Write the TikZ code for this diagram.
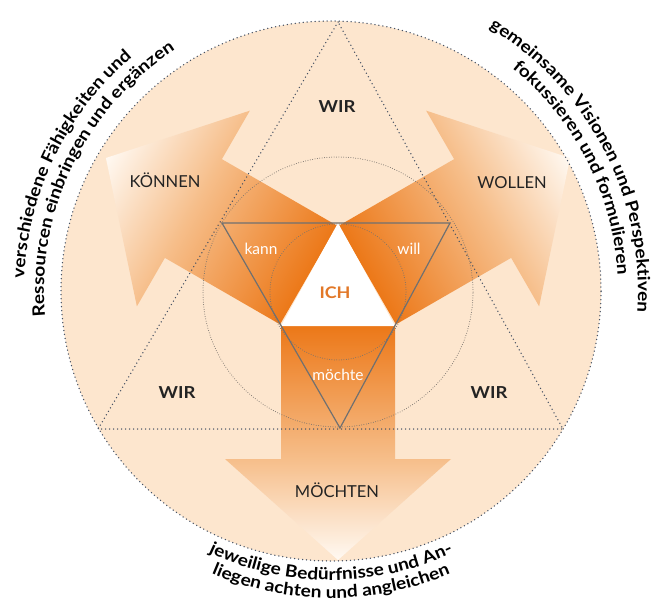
\documentclass[tikz,border=0pt]{standalone}
\usepackage{fontspec}
\setmainfont{Lato}
\newfontfamily\widefam[FakeStretch=1.12]{Lato}
\usetikzlibrary{decorations.text}
\definecolor{peach}{RGB}{253,230,206}
\definecolor{ordark}{RGB}{236,120,24}
\definecolor{ormid}{RGB}{246,190,138}
\definecolor{ortip}{RGB}{255,249,242}
\definecolor{dotc}{RGB}{70,82,100}
\definecolor{grayc}{RGB}{120,114,108}
\definecolor{trigray}{RGB}{112,112,112}
\definecolor{ichc}{RGB}{226,120,40}
\definecolor{txt}{RGB}{35,35,35}
\pgfdeclareverticalshading{arrowgrad}{100bp}{color(0bp)=(ortip); color(25bp)=(ortip); color(46.6bp)=(ormid); color(75bp)=(ordark); color(100bp)=(ordark)}
\newcommand\arcfont{\widefam\bfseries\fontsize{17}{18}\selectfont}
\newcommand\arrowpath{(281,-326) -- (281,-459) -- (225,-459) -- (338,-560) -- (451,-459) -- (395,-459) -- (395,-326) -- cycle}
\begin{document}
\begin{tikzpicture}[x=1pt,y=1pt,
  bigdot/.style={draw=dotc, line width=1.5pt, line cap=round, dash pattern=on 0pt off 4pt},
  smalldot/.style={draw=grayc, line width=1pt, line cap=round, dash pattern=on 0pt off 2.4pt},
  wir/.style={font=\widefam\bfseries\fontsize{16.5}{17}\selectfont, text=txt, anchor=base, inner sep=0pt},
  dirlabel/.style={font=\fontsize{16.5}{17}\selectfont, text=txt, anchor=base, inner sep=0pt},
  innerlabel/.style={font=\fontsize{15.5}{16}\selectfont, text=white, anchor=base, inner sep=0pt},
  arctext/.style={decorate, decoration={text along path, text align=center, text={#1}}}]
\useasboundingbox (0,-613) rectangle (652,0);
\coordinate (C) at (331,-291);
\coordinate (O) at (338,-292);
% disc
\fill[peach] (C) circle[radius=270pt];
% arrows
\begin{scope}
  \shade[shading=arrowgrad] \arrowpath;
\end{scope}
\begin{scope}[transform canvas={rotate around={-120:(338pt,-292pt)}}]
  \shade[shading=arrowgrad] \arrowpath;
\end{scope}
\begin{scope}[transform canvas={rotate around={120:(338pt,-292pt)}}]
  \shade[shading=arrowgrad] \arrowpath;
\end{scope}
% ICH triangle
\fill[white] (338,-223) -- (281,-326) -- (395,-326) -- cycle;
% dotted outlines
\draw[bigdot] (338,-22) -- (98,-429) -- (563,-429) -- cycle;
\draw[bigdot] (C) circle[radius=270pt];
\draw[smalldot] (O) circle[radius=135pt];
\draw[smalldot] (O) circle[radius=68pt];
\draw[trigray, line width=1.2pt] (222,-223) -- (450,-223) -- (340,-428) -- cycle;
% labels
\node[wir] (wirtop) at (337,-112) {WIR};
\node[wir] (wirleft) at (177,-398) {WIR};
\node[wir] (wirright) at (489,-398) {WIR};
\node[dirlabel] (koennen) at (165,-187) {KÖNNEN};
\node[dirlabel] (wollen) at (512,-188) {WOLLEN};
\node[dirlabel] (moechten) at (337,-497) {MÖCHTEN};
\node[innerlabel] (kann) at (261,-254) {kann};
\node[innerlabel] (will) at (409,-254) {will};
\node[innerlabel] (moechte) at (338,-380) {möchte};
\node[font=\widefam\bfseries\fontsize{16}{16}\selectfont, text=ichc, anchor=base, inner sep=0pt] (ich) at (335,-298) {ICH};
% curved texts
\path[arctext={|\arcfont|verschiedene Fähigkeiten und}] (C) ++(209:307pt) arc[start angle=209, end angle=99, radius=307pt];
\path[arctext={|\arcfont|Ressourcen einbringen und ergänzen}] (C) ++(209:287pt) arc[start angle=209, end angle=99, radius=287pt];
\path[arctext={|\arcfont|gemeinsame Visionen und Perspektiven}] (C) ++(82.5:307pt) arc[start angle=82.5, end angle=-27.5, radius=307pt];
\path[arctext={|\arcfont|fokussieren und formulieren}] (C) ++(82:287pt) arc[start angle=82, end angle=-28, radius=287pt];
\path[arctext={|\arcfont|jeweilige Bedürfnisse und An-}] (C) ++(220:289pt) arc[start angle=220, end angle=320, radius=289pt];
\path[arctext={|\arcfont|liegen achten und angleichen}] (C) ++(220:307pt) arc[start angle=220, end angle=320, radius=307pt];
\end{tikzpicture}
\end{document}
